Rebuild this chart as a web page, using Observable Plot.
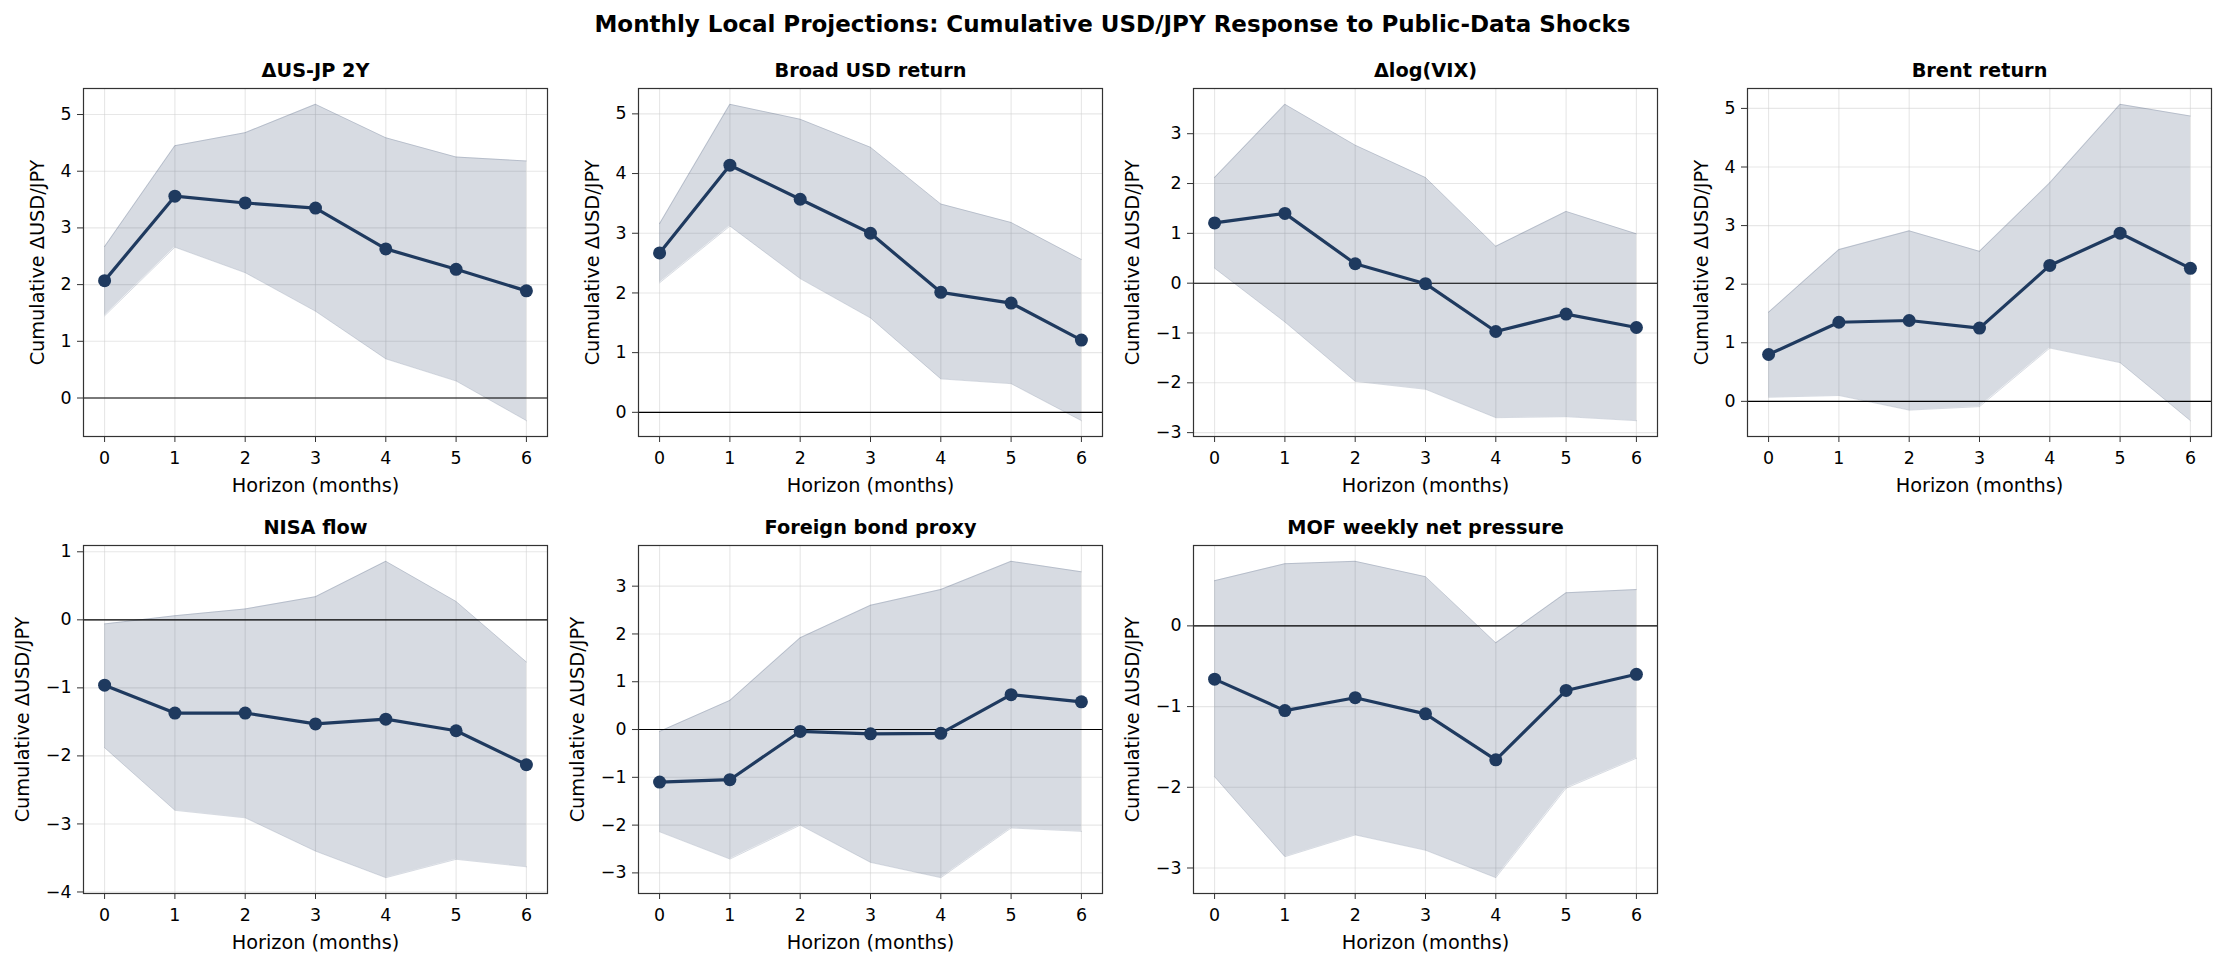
<!DOCTYPE html>
<html><head><meta charset="utf-8">
<script src="https://cdn.jsdelivr.net/npm/d3@7"></script>
<script src="https://cdn.jsdelivr.net/npm/@observablehq/plot@0.6"></script>
<style>
body{margin:0;background:#fff;}
#fig{position:relative;width:2225px;height:966px;background:#fff;font-family:"DejaVu Sans",sans-serif;overflow:hidden;}
#title{position:absolute;left:0;top:13px;width:2225px;text-align:center;font-size:23px;font-weight:bold;line-height:23px;color:#000;}
.panel{position:absolute;}
</style></head><body>
<div id="fig"><div id="title">Monthly Local Projections: Cumulative USD/JPY Response to Public-Data Shocks</div></div>
<script>
// ---- data ----
const horizons = [0, 1, 2, 3, 4, 5, 6];
const panelTitles = ["ΔUS-JP 2Y", "Broad USD return", "Δlog(VIX)", "Brent return", "NISA flow", "Foreign bond proxy", "MOF weekly net pressure"];
const xLabel = "Horizon (months)";
const yLabel = "Cumulative ΔUSD/JPY";

const us2yMid = [2.07, 3.56, 3.44, 3.35, 2.63, 2.27, 1.89];
const us2yLo  = [1.45, 2.66, 2.21, 1.53, 0.69, 0.30, -0.40];
const us2yHi  = [2.67, 4.45, 4.68, 5.18, 4.59, 4.25, 4.18];

const usdMid = [2.67, 4.14, 3.57, 3.00, 2.01, 1.83, 1.21];
const usdLo  = [2.17, 3.12, 2.24, 1.58, 0.56, 0.48, -0.14];
const usdHi  = [3.16, 5.16, 4.91, 4.44, 3.49, 3.18, 2.56];

const vixMid = [1.21, 1.40, 0.39, -0.01, -0.97, -0.62, -0.89];
const vixLo  = [0.30, -0.78, -1.97, -2.13, -2.70, -2.68, -2.76];
const vixHi  = [2.12, 3.59, 2.77, 2.12, 0.74, 1.44, 0.99];

const brentMid = [0.80, 1.35, 1.38, 1.25, 2.32, 2.87, 2.27];
const brentLo  = [0.07, 0.10, -0.15, -0.09, 0.91, 0.66, -0.33];
const brentHi  = [1.52, 2.59, 2.91, 2.56, 3.73, 5.07, 4.87];

const nisaMid = [-0.96, -1.37, -1.37, -1.53, -1.46, -1.63, -2.13];
const nisaLo  = [-1.88, -2.80, -2.91, -3.40, -3.79, -3.52, -3.63];
const nisaHi  = [-0.06, 0.06, 0.16, 0.34, 0.86, 0.27, -0.62];

const bondMid = [-1.10, -1.05, -0.04, -0.09, -0.08, 0.73, 0.58];
const bondLo  = [-2.14, -2.71, -2.00, -2.78, -3.10, -2.06, -2.13];
const bondHi  = [-0.04, 0.61, 1.92, 2.60, 2.93, 3.52, 3.30];

const mofMid = [-0.66, -1.05, -0.89, -1.09, -1.66, -0.80, -0.60];
const mofLo  = [-1.87, -2.86, -2.59, -2.78, -3.12, -2.01, -1.64];
const mofHi  = [0.56, 0.77, 0.80, 0.61, -0.21, 0.41, 0.45];

const panels = [
  {title: panelTitles[0], mid: us2yMid, lo: us2yLo, hi: us2yHi},
  {title: panelTitles[1], mid: usdMid, lo: usdLo, hi: usdHi},
  {title: panelTitles[2], mid: vixMid, lo: vixLo, hi: vixHi},
  {title: panelTitles[3], mid: brentMid, lo: brentLo, hi: brentHi},
  {title: panelTitles[4], mid: nisaMid, lo: nisaLo, hi: nisaHi},
  {title: panelTitles[5], mid: bondMid, lo: bondLo, hi: bondHi},
  {title: panelTitles[6], mid: mofMid, lo: mofLo, hi: mofHi}
];

// ---- layout / style ----
const NAVY = "#1f3a5f";
const frameLefts = [83, 638, 1193, 1747];
const frameTops = [88, 545];
const FW = 464, FH = 348;
const ML = 83, MR = 12, MT = 40, MB = 70;
const fig = document.getElementById("fig");

panels.forEach((p, i) => {
  const row = Math.floor(i / 4), col = i % 4;
  const data = horizons.map((h, j) => ({h, m: p.mid[j], lo: p.lo[j], hi: p.hi[j]}));
  const ymin = d3.min(p.lo), ymax = d3.max(p.hi), pad = (ymax - ymin) * 0.05;
  const dom = [ymin - pad, ymax + pad];
  const yt = d3.range(Math.ceil(dom[0]), Math.floor(dom[1]) + 1);
  const labelOff = yt[0] < 0 ? 61 : 46;
  const chart = Plot.plot({
    width: ML + FW + MR, height: MT + FH + MB,
    marginLeft: ML, marginRight: MR, marginTop: MT, marginBottom: MB,
    style: {fontFamily: "DejaVu Sans", fontSize: "17.4px", color: "#000", background: "transparent", overflow: "visible"},
    x: {domain: [-0.3, 6.3]},
    y: {domain: dom},
    marks: [
      Plot.gridX(horizons, {stroke: "#d0d0d0", strokeOpacity: 0.5, strokeWidth: 1.1}),
      Plot.gridY(yt, {stroke: "#d0d0d0", strokeOpacity: 0.5, strokeWidth: 1.1}),
      Plot.areaY(data, {x: "h", y1: "lo", y2: "hi", fill: NAVY, fillOpacity: 0.18}),
      Plot.lineY(data, {x: "h", y: "hi", stroke: NAVY, strokeOpacity: 0.18, strokeWidth: 1}),
      Plot.lineY(data, {x: "h", y: "lo", stroke: NAVY, strokeOpacity: 0.18, strokeWidth: 1}),
      Plot.ruleY([0], {stroke: "#000", strokeWidth: 1.1}),
      Plot.lineY(data, {x: "h", y: "m", stroke: NAVY, strokeWidth: 3.2}),
      Plot.dot(data, {x: "h", y: "m", r: 6.5, fill: NAVY, stroke: "none"}),
      Plot.axisX(horizons, {tickSize: 6, tickPadding: 9, stroke: "#333", fill: "#000", label: null, fontSize: 17.4}),
      Plot.axisY(yt, {tickSize: 6, tickPadding: 6, stroke: "#333", fill: "#000", label: null, fontSize: 17.4, tickFormat: d3.format("d")}),
      Plot.frame({stroke: "#333", strokeWidth: 1.2}),
      Plot.text([p.title], {frameAnchor: "top", lineAnchor: "top", dy: -25, fontWeight: "bold", fontSize: 19.3, fill: "#000"}),
      Plot.text([xLabel], {frameAnchor: "bottom", lineAnchor: "top", dy: 42, fontSize: 19.3, fill: "#000"}),
      Plot.text([yLabel], {frameAnchor: "left", textAnchor: "middle", lineAnchor: "middle", rotate: -90, dx: -labelOff, fontSize: 19.3, fill: "#000"})
    ]
  });
  chart.classList.add("panel");
  chart.style.left = (frameLefts[col] - ML) + "px";
  chart.style.top = (frameTops[row] - MT) + "px";
  fig.appendChild(chart);
});
</script>
</body></html>
